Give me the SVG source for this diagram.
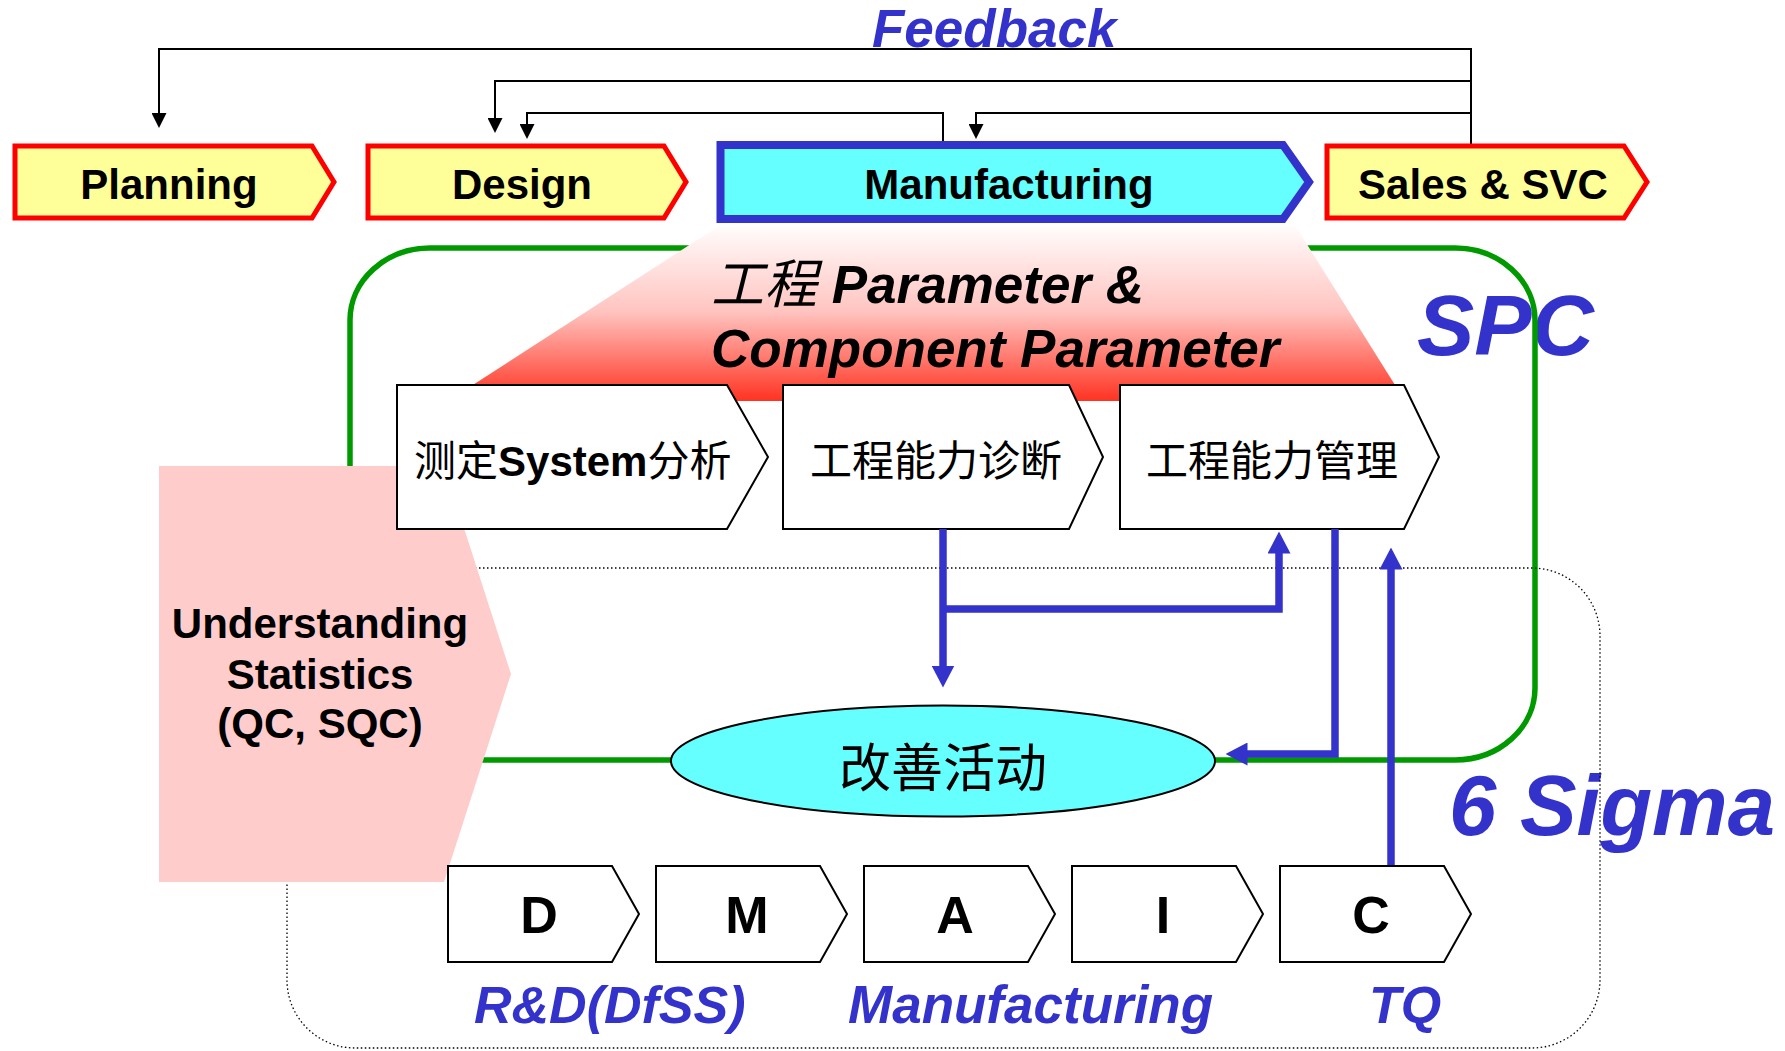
<svg xmlns="http://www.w3.org/2000/svg" width="1785" height="1051" viewBox="0 0 1785 1051">
  <style>
    .lat { font-family: "Liberation Sans", Arial, "Noto Sans CJK SC", sans-serif; }
    .cjk { font-family: "Liberation Sans", Arial, "Noto Sans CJK SC", sans-serif; }
    .bold { font-weight: bold; }
    .bi { font-weight: bold; font-style: italic; }
    .blue { fill: #3333CC; }
    .phase-y { fill: #FFFF99; stroke: #FF0000; stroke-width: 5; stroke-linejoin: miter; }
    .phase-c { fill: #66FFFF; stroke: #3333CC; stroke-width: 8; stroke-linejoin: miter; }
    .step { fill: #FFFFFF; stroke: #000000; stroke-width: 2; }
    .fb { fill: none; stroke: #000000; stroke-width: 2; }
    .flow { fill: none; stroke: #3333CC; stroke-width: 7.5; stroke-linejoin: miter; }
    .ph-text { font-size: 42px; text-anchor: middle; }
    .dm-text { font-size: 52px; text-anchor: middle; }
  </style>
  <defs>
    <linearGradient id="paramGrad" x1="0" y1="0" x2="0" y2="1">
      <stop offset="0" stop-color="#FFFFFF"/>
      <stop offset="0.5" stop-color="#FFC4C0"/>
      <stop offset="1" stop-color="#FF3322"/>
    </linearGradient>
    <marker id="arrowBlack" viewBox="0 0 15 15" markerUnits="userSpaceOnUse" markerWidth="15" markerHeight="15" refX="1" refY="7.5" orient="auto">
      <path d="M0,0 L15,7.5 L0,15 Z" fill="#000000"/>
    </marker>
    <marker id="arrowBlue" viewBox="0 0 22 23" markerUnits="userSpaceOnUse" markerWidth="22" markerHeight="23" refX="0.5" refY="11.5" orient="auto">
      <path d="M0,0 L22,11.5 L0,23 Z" fill="#3333CC"/>
    </marker>
  </defs>

  <!-- big region labels (drawn under the frames) -->
  <text class="lat bi blue" x="1417" y="355" font-size="86">SPC</text>
  <text class="lat bi blue" x="1449" y="835" font-size="85">6 Sigma</text>

  <!-- SPC frame -->
  <g id="spc-frame">
    <rect x="350" y="248" width="1185" height="512" rx="80" ry="72" fill="none" stroke="#009900" stroke-width="5.5"/>
  </g>

  <!-- 6 Sigma frame -->
  <g id="sigma-frame">
    <rect x="287" y="568" width="1313" height="480" rx="68" ry="68" fill="none" stroke="#000000" stroke-width="1.3" stroke-dasharray="1.5 2.5"/>
  </g>

  <!-- process / component parameter band -->
  <g id="parameter-band">
    <polygon points="725,222 1293,222 1405,401 448,401" fill="url(#paramGrad)"/>
    <text class="lat bi" x="711" y="303" font-size="53"><tspan font-weight="normal">工程</tspan> Parameter &amp;</text>
    <text class="lat bi" x="711" y="367" font-size="53">Component Parameter</text>
  </g>

  <!-- statistics basis -->
  <g id="understanding-statistics">
    <polygon points="159,466 444,466 511,674 444,882 159,882" fill="#FFCCCC"/>
    <text class="lat bold" x="320" y="638" font-size="42" text-anchor="middle">Understanding</text>
    <text class="lat bold" x="320" y="689" font-size="42" text-anchor="middle">Statistics</text>
    <text class="lat bold" x="320" y="738" font-size="42" text-anchor="middle">(QC, SQC)</text>
  </g>

  <!-- feedback connectors -->
  <g id="feedback-connectors">
    <path class="fb" d="M1471,144 V49 H159 V114" marker-end="url(#arrowBlack)"/>
    <path class="fb" d="M1471,81 H495 V119" marker-end="url(#arrowBlack)"/>
    <path class="fb" d="M1471,113 H976 V125" marker-end="url(#arrowBlack)"/>
    <path class="fb" d="M943,142 V113 H527 V125" marker-end="url(#arrowBlack)"/>
  </g>
  <text class="lat bi blue" x="872" y="47" font-size="53">Feedback</text>

  <!-- product life-cycle phases -->
  <g id="phase-planning">
    <polygon class="phase-y" points="15,146 312,146 334,182 312,218 15,218"/>
    <text class="lat bold ph-text" x="169" y="199">Planning</text>
  </g>
  <g id="phase-design">
    <polygon class="phase-y" points="368,146 664,146 686,182 664,218 368,218"/>
    <text class="lat bold ph-text" x="522" y="199">Design</text>
  </g>
  <g id="phase-manufacturing">
    <polygon class="phase-c" points="720.5,145 1283,145 1309,182 1283,219 720.5,219"/>
    <text class="lat bold ph-text" x="1009" y="199">Manufacturing</text>
  </g>
  <g id="phase-sales">
    <polygon class="phase-y" points="1327,146 1624,146 1647,182 1624,218 1327,218"/>
    <text class="lat bold ph-text" x="1483" y="199">Sales &amp; SVC</text>
  </g>

  <!-- SPC steps -->
  <g id="step-msa">
    <polygon class="step" points="397,385 727,385 768,457 727,529 397,529"/>
    <text class="cjk" x="414" y="476" font-size="42">测定<tspan font-weight="bold">System</tspan>分析</text>
  </g>
  <g id="step-diagnosis">
    <polygon class="step" points="783,385 1069,385 1103,457 1069,529 783,529"/>
    <text class="cjk" x="936" y="476" font-size="42" text-anchor="middle">工程能力诊断</text>
  </g>
  <g id="step-control">
    <polygon class="step" points="1120,385 1404,385 1439,457 1404,529 1120,529"/>
    <text class="cjk" x="1272" y="476" font-size="42" text-anchor="middle">工程能力管理</text>
  </g>

  <!-- improvement activity -->
  <g id="improvement">
    <ellipse cx="943" cy="761" rx="272" ry="55.5" fill="#66FFFF" stroke="#000000" stroke-width="2"/>
    <text class="cjk" x="943" y="787" font-size="52" text-anchor="middle">改善活动</text>
  </g>

  <!-- improvement flow connectors -->
  <g id="flow-connectors">
    <path class="flow" d="M943,529 V666" marker-end="url(#arrowBlue)"/>
    <path class="flow" d="M943,609 H1279 V553" marker-end="url(#arrowBlue)"/>
    <path class="flow" d="M1335,529 V754 H1247" marker-end="url(#arrowBlue)"/>
    <path class="flow" d="M1391,866 V569" marker-end="url(#arrowBlue)"/>
  </g>

  <!-- DMAIC steps -->
  <g id="dmaic-d">
    <polygon class="step" points="448,866 612,866 639,914 612,962 448,962"/>
    <text class="lat bold dm-text" x="539" y="933">D</text>
  </g>
  <g id="dmaic-m">
    <polygon class="step" points="656,866 820,866 847,914 820,962 656,962"/>
    <text class="lat bold dm-text" x="747" y="933">M</text>
  </g>
  <g id="dmaic-a">
    <polygon class="step" points="864,866 1028,866 1055,914 1028,962 864,962"/>
    <text class="lat bold dm-text" x="955" y="933">A</text>
  </g>
  <g id="dmaic-i">
    <polygon class="step" points="1072,866 1236,866 1263,914 1236,962 1072,962"/>
    <text class="lat bold dm-text" x="1163" y="933">I</text>
  </g>
  <g id="dmaic-c">
    <polygon class="step" points="1280,866 1444,866 1471,914 1444,962 1280,962"/>
    <text class="lat bold dm-text" x="1371" y="933">C</text>
  </g>

  <!-- application areas -->
  <text class="lat bi blue" x="474" y="1023" font-size="52">R&amp;D(DfSS)</text>
  <text class="lat bi blue" x="848" y="1023" font-size="53">Manufacturing</text>
  <text class="lat bi blue" x="1369" y="1023" font-size="52">TQ</text>
</svg>
